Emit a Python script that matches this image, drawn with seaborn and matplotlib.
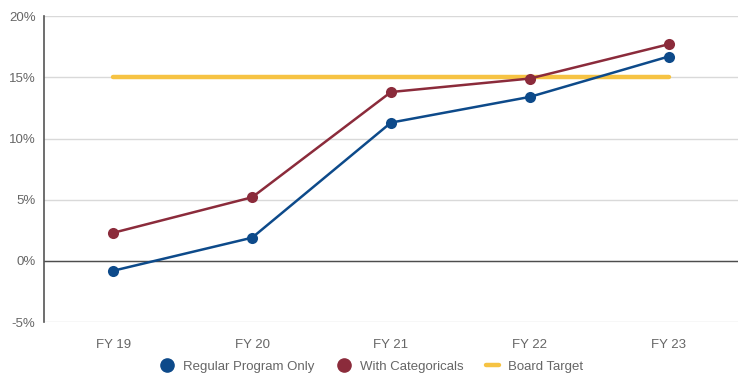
import matplotlib
matplotlib.use("Agg")
import matplotlib.pyplot as plt
import seaborn as sns
import pandas as pd
from matplotlib.lines import Line2D
from matplotlib.ticker import FuncFormatter

years = ["FY 19", "FY 20", "FY 21", "FY 22", "FY 23"]
regular_only = [-0.8, 1.9, 11.3, 13.4, 16.7]
with_categoricals = [2.3, 5.2, 13.8, 14.9, 17.7]
board_target = [15, 15, 15, 15, 15]

series_names = ["Regular Program Only", "With Categoricals", "Board Target"]
colors = {"Regular Program Only": "#0d4a8a",
          "With Categoricals": "#8b2b3b",
          "Board Target": "#f6c343"}

df = pd.DataFrame({
    "year": years * 3,
    "value": regular_only + with_categoricals + board_target,
    "series": [series_names[0]] * 5 + [series_names[1]] * 5 + [series_names[2]] * 5,
})

sns.set_theme(style="white")
plt.rcParams["font.family"] = ["Liberation Sans", "DejaVu Sans"]
text_color = "#666666"

fig = plt.figure(figsize=(7.44, 3.75), dpi=100)
ax = fig.add_axes([0.059, 0.141, 0.933, 0.816])

# target line first so the data lines sit above it
sns.lineplot(data=df[df.series == "Board Target"], x="year", y="value",
             color=colors["Board Target"], linewidth=3.2, ax=ax, sort=False,
             legend=False, zorder=2)
for name in series_names[:2]:
    sns.lineplot(data=df[df.series == name], x="year", y="value",
                 color=colors[name], linewidth=1.8, marker="o", markersize=8,
                 markeredgewidth=0, ax=ax, sort=False, legend=False, zorder=3)

ax.set_xlim(-0.5, 4.5)
ax.set_ylim(-5, 20)
ax.set_yticks([-5, 0, 5, 10, 15, 20])
ax.yaxis.set_major_formatter(FuncFormatter(lambda v, p: f"{v:.0f}%"))
ax.grid(axis="y", color="#d9d9d9", linewidth=1)
ax.set_axisbelow(True)
ax.axhline(0, color="#4d4d4d", linewidth=1, zorder=1.5)
for s in ["top", "right", "bottom"]:
    ax.spines[s].set_visible(False)
ax.spines["left"].set_color("#555555")
ax.spines["left"].set_linewidth(1.2)
ax.set_xlabel("")
ax.set_ylabel("")
ax.tick_params(axis="both", length=0, labelsize=9.5, labelcolor=text_color, pad=6)
ax.tick_params(axis="x", pad=12)

handles = [
    Line2D([], [], linestyle="none", marker="o", markersize=9.5, color=colors[series_names[0]]),
    Line2D([], [], linestyle="none", marker="o", markersize=9.5, color=colors[series_names[1]]),
    Line2D([], [], color=colors["Board Target"], linewidth=3.2),
]
fig.legend(handles, series_names, loc="center", bbox_to_anchor=(0.5, 0.022),
           ncol=3, frameon=False, fontsize=9.5, labelcolor=text_color,
           handlelength=1.0, handletextpad=0.7, columnspacing=1.7)

fig.savefig("out.png", dpi=100)
